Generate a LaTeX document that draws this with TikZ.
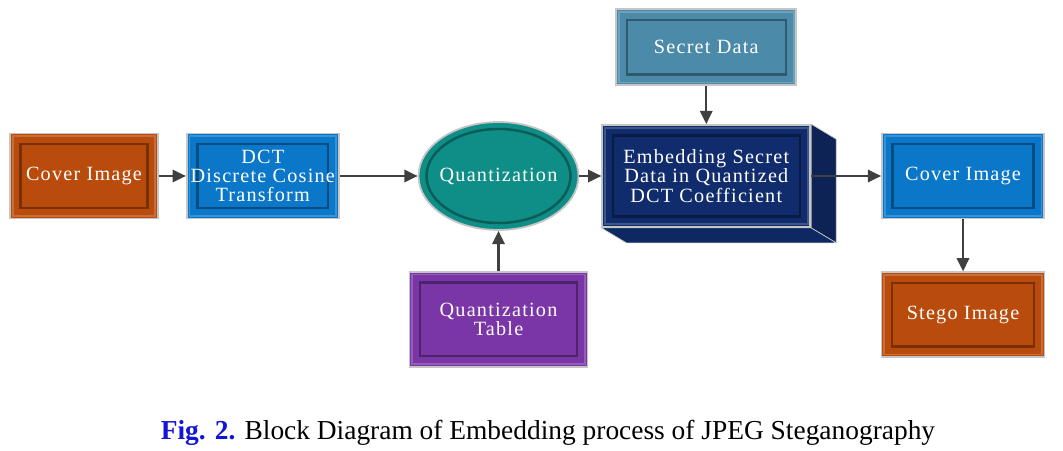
\documentclass[tikz,border=0pt]{standalone}
\usepackage{fontspec}
\setmainfont{Liberation Serif}
\newfontfamily\blockfont[LetterSpace=6]{Liberation Serif}
\usetikzlibrary{arrows.meta,backgrounds,positioning,shapes.geometric}
\definecolor{coverbrown}{HTML}{B94B0C}
\definecolor{dctblue}{HTML}{0B77C9}
\definecolor{quantteal}{HTML}{0F8E88}
\definecolor{embednavy}{HTML}{102C6C}
\definecolor{secretblue}{HTML}{4B8AA9}
\definecolor{tablepurple}{HTML}{7A35A6}
\definecolor{figblue}{HTML}{1414D8}
\tikzset{
  block/.style={
    rectangle,
    draw=gray!45,
    line width=1pt,
    text=white,
    align=center,
    font=\blockfont\fontsize{11.5}{11}\selectfont,
    inner sep=2pt,
    path picture={
      \draw[black, opacity=0.35, line width=1.4pt]
        ([shift={(6pt,6pt)}]path picture bounding box.south west) rectangle
        ([shift={(-6pt,-6pt)}]path picture bounding box.north east);
      \draw[white, opacity=0.2, line width=1pt]
        ([shift={(1.5pt,1.5pt)}]path picture bounding box.south west) rectangle
        ([shift={(-1.5pt,-1.5pt)}]path picture bounding box.north east);
    }
  },
  coverblock/.style={block, fill=coverbrown, minimum width=2.96cm, minimum height=1.7cm},
  dctblock/.style={block, fill=dctblue, minimum width=3.04cm, minimum height=1.7cm},
  roundblock/.style={
    ellipse,
    draw=gray!45,
    line width=1pt,
    fill=quantteal,
    text=white,
    inner sep=0pt,
    font=\blockfont\fontsize{11.5}{11}\selectfont,
    minimum width=3.2cm,
    minimum height=2.16cm,
    path picture={
      \draw[black, opacity=0.35, line width=1.4pt]
        (path picture bounding box.center) ellipse [x radius=1.44cm, y radius=0.94cm];
    }
  },
  flowarrow/.style={
    -{Triangle[length=7.5pt,width=7pt]},
    line width=1.2pt,
    draw=black!75
  }
}

\begin{document}
\begin{tikzpicture}
    \useasboundingbox (0,0) rectangle (21.26,9);

    \node[coverblock] (cover) at (1.68,5.48) {Cover Image};
    \node[dctblock, right=0.54cm of cover] (dct) {DCT\\Discrete Cosine\\Transform};
    \node[roundblock, right=1.56cm of dct] (quant) {\makebox[1.6cm]{Quantization}};
    \node[block, fill=embednavy, minimum width=4.16cm, minimum height=2.04cm,
          right=0.44cm of quant] (embed) {Embedding Secret\\Data in Quantized\\DCT Coefficient};
    \node[block, fill=secretblue, minimum width=3.6cm, minimum height=1.52cm,
          above=0.76cm of embed] (secret) {Secret Data};
    \node[block, fill=tablepurple, minimum width=3.56cm, minimum height=1.9cm,
          below=0.8cm of quant] (table) {Quantization\\Table};
    \node[dctblock, minimum width=3.24cm, right=1.4cm of embed] (stegocover) {Cover Image};
    \node[coverblock, minimum width=3.26cm, below=1.04cm of stegocover] (stego) {Stego Image};

    % 3d sides of the embedding block
    \begin{scope}[on background layer]
        \fill[embednavy!80!black, draw=gray!45]
            (embed.north east) -- ++(0.5,-0.3) -- ([shift={(0.5,-0.3)}]embed.south east)
            -- (embed.south east) -- cycle;
        \fill[embednavy!90!black, draw=gray!45]
            (embed.south west) -- ++(0.5,-0.3) -- ([shift={(0.5,-0.3)}]embed.south east)
            -- (embed.south east) -- cycle;
    \end{scope}

    \draw[flowarrow] (cover) -- (dct);
    \draw[flowarrow] (dct) -- (quant);
    \draw[flowarrow] (quant) -- (embed);
    \draw[flowarrow] (secret) -- (embed);
    \draw[flowarrow] (table) -- (quant);
    \draw[flowarrow] (embed) -- (stegocover);
    \draw[flowarrow] (stegocover) -- (stego);

    \node[font=\fontsize{15.6}{17}\selectfont] (caption) at (10.96,0.34)
        {\textcolor{figblue}{\textbf{Fig. 2.}} Block Diagram of Embedding process of JPEG Steganography};
\end{tikzpicture}
\end{document}
